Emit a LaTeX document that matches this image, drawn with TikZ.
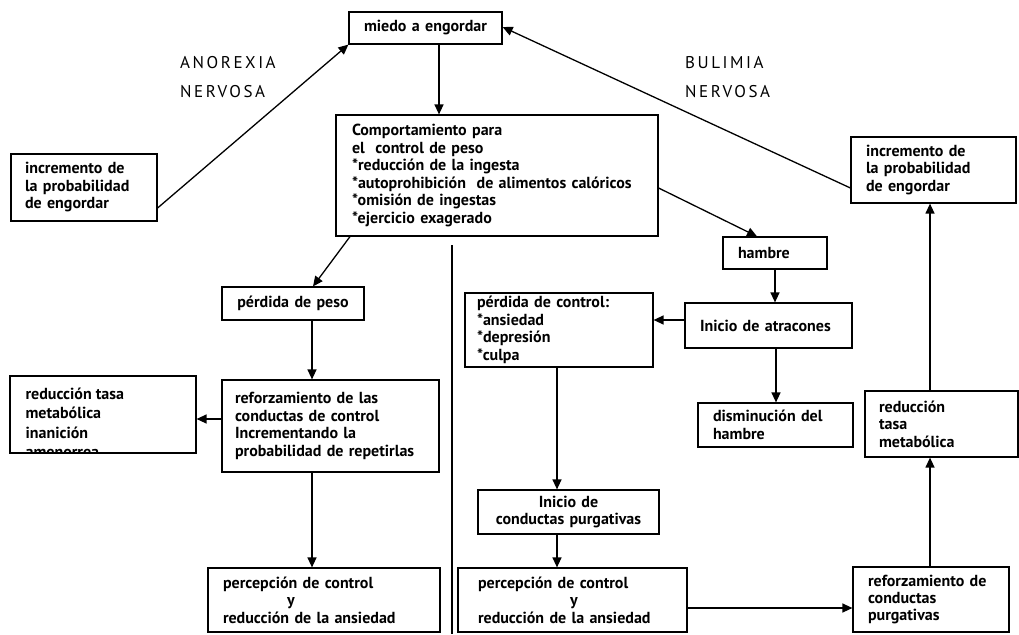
\documentclass[tikz,border=0pt]{standalone}
\usepackage{fontspec}
\setmainfont{PT Sans}
\newfontfamily\headfont[LetterSpace=15]{PT Sans}
\usetikzlibrary{arrows.meta}

\tikzset{
  txt/.style={font=\bfseries\fontsize{16}{17.5}\selectfont},
  box/.style={draw, line width=1.2pt, rectangle, inner ysep=0pt, txt},
  arr/.style={-{Triangle[length=10pt,width=9pt]}, line width=1.3pt},
  heading/.style={font=\headfont\fontsize{17}{20}\selectfont, anchor=west, inner sep=0pt},
}

% \bx{name}{left}{top}{right}{bottom}{indent}{align}{text}
\newcommand\bx[8]{%
  \pgfmathsetmacro\bxw{#4-#2}%
  \pgfmathsetmacro\bxh{#5-#3}%
  \pgfmathsetmacro\bxt{#4-#2-2*#6}%
  \node[box, minimum width=\bxw pt, minimum height=\bxh pt, inner xsep=#6pt,
        text width=\bxt pt, align=#7] (#1) at ({(#2+#4)/2},{(#3+#5)/2}) {#8};}

\begin{document}
\begin{tikzpicture}[x=1pt, y=-1pt]
  \fill[white] (0,0) rectangle (1019,634);
  \useasboundingbox (0,0) rectangle (1019,634);

  % titles of the two loops
  \node[heading] (anoA) at (180,63) {ANOREXIA};
  \node[heading] (anoB) at (180,92) {NERVOSA};
  \node[heading] (bulA) at (685,63) {BULIMIA};
  \node[heading] (bulB) at (685,92) {NERVOSA};

  % shared part
  \bx{miedo}{349}{12}{502}{44}{2}{center}{miedo a engordar}
  \bx{comp}{336}{115}{658}{236}{16}{left}{Comportamiento para\\el \ control de peso\\{}*reducción de la ingesta\\{}*autoprohibición \ de alimentos calóricos\\{}*omisión de ingestas\\{}*ejercicio exagerado}

  % anorexia branch
  \bx{incL}{11}{154}{157}{221}{14}{left}{incremento de\\la probabilidad\\de engordar}
  \bx{pesoA}{222}{287}{364}{320}{2}{center}{pérdida de peso}
  \bx{refA}{222}{380}{439}{472}{13}{left}{reforzamiento de las\\conductas de control\\Incrementando la\\probabilidad de repetirlas}
  % the last line of this box runs into its lower border and is cut there
  \node[draw, line width=1.2pt, minimum width=186pt, minimum height=77pt, inner sep=0pt,
        path picture={\node[font=\bfseries\fontsize{16}{19.5}\selectfont,
                            anchor=north west, align=left, inner sep=0pt,
                            minimum width=0pt, minimum height=0pt]
          at ([xshift=15pt,yshift=-11pt]path picture bounding box.north west)
          {reducción tasa\\metabólica\\inanición\\amenorrea};}]
        (redA) at (103,414.5) {};
  \bx{percA}{208}{568}{440}{632}{15}{left}{percepción de control\\\hspace*{64pt}y\\reducción de la ansiedad}

  % bulimia branch
  \bx{hambre}{723}{237}{827}{269}{15}{left}{hambre}
  \bx{atrac}{685}{303}{852}{348}{15}{left}{Inicio de atracones}
  \bx{pctrl}{465}{293}{653}{367}{12}{left}{pérdida de control:\\{}*ansiedad\\{}*depresión\\{}*culpa}
  \bx{dismin}{698}{403}{853}{447}{15}{left}{disminución del\\hambre}
  \bx{purg}{478}{490}{659}{534}{2}{center}{Inicio de\\conductas purgativas}
  \bx{percB}{458}{568}{687}{632}{20}{left}{percepción de control\\\hspace*{92pt}y\\reducción de la ansiedad}
  \bx{refB}{853}{567}{1009}{632}{15}{left}{reforzamiento de\\conductas\\purgativas}
  \bx{redR}{865}{391}{1018}{457}{14}{left}{reducción\\tasa\\metabólica}
  \bx{incR}{851}{137}{1016}{203}{15}{left}{incremento de\\la probabilidad\\de engordar}

  % dividing line between the two disorders
  \draw[line width=1.2pt] (452,245) -- (452,634);

  % connectors
  \draw[arr] (miedo.south -| 439,0) -- (comp.north -| 439,0);
  \draw[arr] (incL.east |- 0,208) -- (miedo.south west);
  \draw[arr] (incR.west |- 0,188) -- (miedo.east |- 0,27);
  \draw[arr] (comp.east |- 0,188) -- (hambre.north -| 757,0);
  \draw[arr] (comp.south -| 350,0) -- (pesoA.north -| 313,0);
  \draw[arr] (pesoA.south -| 312,0) -- (refA.north -| 312,0);
  \draw[arr] (refA.west |- 0,419) -- (redA.east |- 0,419);
  \draw[arr] (refA.south -| 312,0) -- (percA.north -| 312,0);
  \draw[arr] (hambre.south -| 775,0) -- (atrac.north -| 775,0);
  \draw[arr] (atrac.west |- 0,320) -- (pctrl.east |- 0,320);
  \draw[arr] (atrac.south -| 776,0) -- (dismin.north -| 776,0);
  \draw[arr] (pctrl.south -| 557,0) -- (purg.north -| 557,0);
  \draw[arr] (purg.south -| 557,0) -- (percB.north -| 557,0);
  \draw[arr] (percB.east |- 0,608) -- (refB.west |- 0,608);
  \draw[arr] (refB.north -| 930,0) -- (redR.south -| 930,0);
  \draw[arr] (redR.north -| 930,0) -- (incR.south -| 930,0);
\end{tikzpicture}
\end{document}
